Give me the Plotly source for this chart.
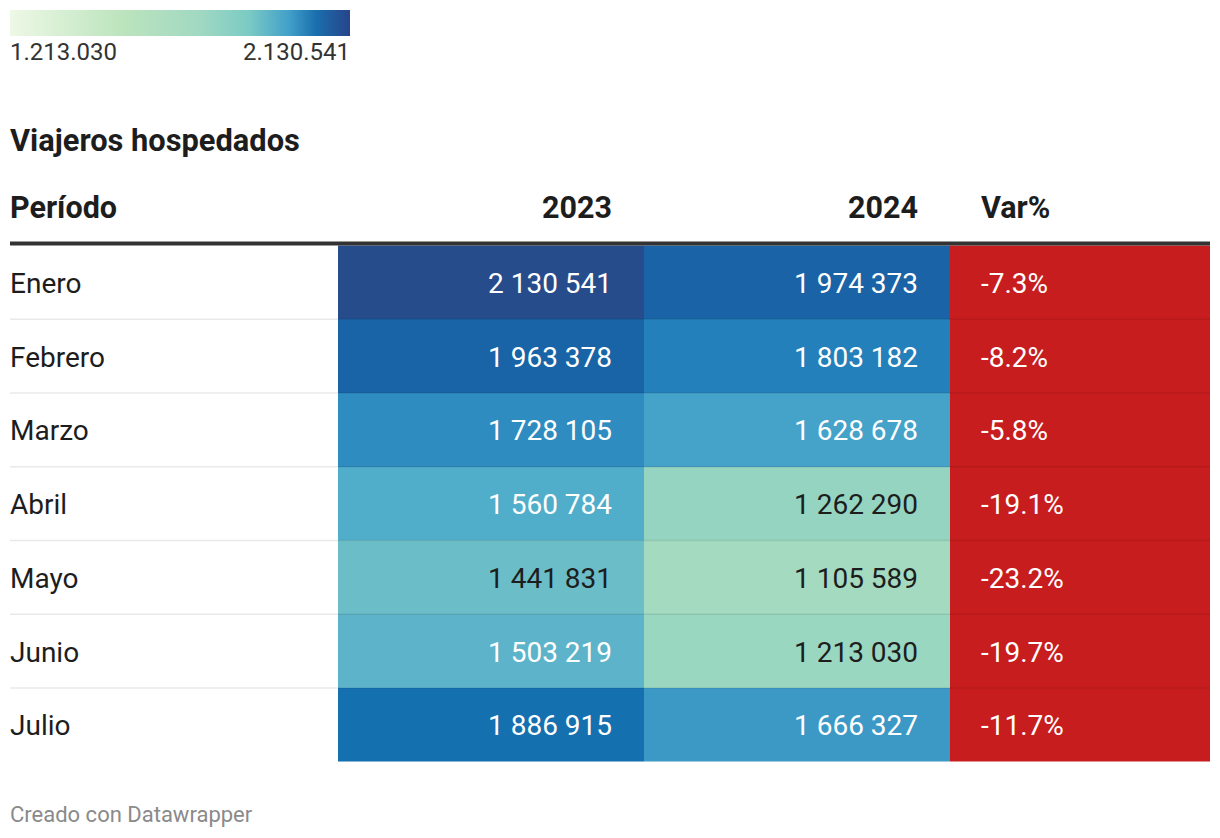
import plotly.graph_objects as go
from plotly.colors import sample_colorscale, unlabel_rgb

# ---------------- data ----------------
title = "Viajeros hospedados"
headers = ["Período", "2023", "2024", "Var%"]
periods = ["Enero", "Febrero", "Marzo", "Abril", "Mayo", "Junio", "Julio"]
v2023 = [2130541, 1963378, 1728105, 1560784, 1441831, 1503219, 1886915]
v2024 = [1974373, 1803182, 1628678, 1262290, 1105589, 1213030, 1666327]
var_pct = [-7.3, -8.2, -5.8, -19.1, -23.2, -19.7, -11.7]
legend_values = [1213030, 2130541]
legend_labels = ["1.213.030", "2.130.541"]
footer = "Creado con Datawrapper"

# ---------------- style / layout ----------------
W, H = 1220, 838
OFF = 8  # page body margin compensation
FONT = "Roboto"
DARK = "#1d1d1d"
RED = "#c81d1e"
col_edges = [10, 338, 644, 950, 1210]
table_top = 245.5
row_h = 73.75
pad_r = 32.5
pad_l = 31

cell_cmin, cell_cmax = 1105589, 2130541
cell_cs = [
    [0.0, "#a3dac0"], [0.105, "#9ad7c0"], [0.153, "#94d4c1"], [0.328, "#6bbec8"],
    [0.388, "#5db4ca"], [0.444, "#51aecb"], [0.51, "#45a2c9"], [0.547, "#3c99c6"],
    [0.607, "#2e8cc0"], [0.681, "#2380ba"], [0.762, "#1570b0"], [0.84, "#1864a7"],
    [1.0, "#264c8c"],
]
legend_cs = [
    [0.0, "#eef8e6"], [0.33, "#bce4bd"], [0.55, "#a2d9c2"], [0.70, "#7ccbc4"],
    [0.82, "#42a0c9"], [0.90, "#1a6fae"], [1.0, "#27448a"],
]

n = len(periods)
row_edges = [table_top + i * row_h for i in range(n + 1)]
row_mid = [table_top + (i + 0.5) * row_h + 1 for i in range(n)]


def fmt_num(v):
    return f"{v:,}".replace(",", " ")


def text_color(v):
    t = (v - cell_cmin) / (cell_cmax - cell_cmin)
    r, g, b = unlabel_rgb(sample_colorscale(cell_cs, [min(max(t, 0), 1)])[0])

    def lin(c):
        c = c / 255
        return c / 12.92 if c <= 0.03928 else ((c + 0.055) / 1.055) ** 2.4

    L = 0.2126 * lin(r) + 0.7152 * lin(g) + 0.0722 * lin(b)
    return DARK if L > 0.42 else "white"


fig = go.Figure()

# value cells (2023, 2024)
fig.add_trace(go.Heatmap(
    x=col_edges[1:4], y=row_edges,
    z=[[a, b] for a, b in zip(v2023, v2024)],
    colorscale=cell_cs, zmin=cell_cmin, zmax=cell_cmax,
    showscale=False, hoverinfo="skip",
))
# variation column
fig.add_trace(go.Heatmap(
    x=col_edges[3:5], y=row_edges,
    z=[[v] for v in var_pct],
    colorscale=[[0, RED], [1, RED]],
    showscale=False, hoverinfo="skip",
))
# legend gradient
fig.add_trace(go.Scatter(
    x=[None, None], y=[None, None], mode="markers", showlegend=False, hoverinfo="skip",
    marker=dict(
        color=legend_values, colorscale=legend_cs,
        cmin=legend_values[0], cmax=legend_values[1], showscale=True,
        colorbar=dict(
            orientation="h", thickness=26, thicknessmode="pixels",
            len=340, lenmode="pixels", x=(10 - OFF) / W, xanchor="left",
            y=1 - (10 - OFF) / H, yanchor="top", xpad=0, ypad=0,
            outlinewidth=0, showticklabels=False, ticks="",
        ),
    ),
))

shapes = []
# row separators
for yb in row_edges[1:-1]:
    shapes.append(dict(type="line", xref="x", yref="y", x0=col_edges[0], x1=col_edges[-1],
                       y0=yb, y1=yb, line=dict(color="rgba(0,0,0,0.085)", width=1.5)))
# header rule
shapes.append(dict(type="line", xref="x", yref="y", x0=col_edges[0], x1=col_edges[-1],
                   y0=table_top - 2, y1=table_top - 2, line=dict(color="#333333", width=4)))

ann = []


def add_text(x, y, text, size, color=DARK, anchor="left", weight=400):
    ann.append(dict(x=x, y=y, xref="x", yref="y", text=text, showarrow=False,
                    xanchor=anchor, yanchor="middle",
                    font=dict(family=FONT, size=size, color=color, weight=weight)))


# legend labels
add_text(col_edges[0] - 2, 52, legend_labels[0], 24, "#333333", "left")
add_text(352, 52, legend_labels[1], 24, "#333333", "right")
# title
add_text(col_edges[0] - 2, 140, title, 30.8, DARK, "left", 700)
# header
hy = 207
add_text(col_edges[0] - 2, hy, headers[0], 30.5, DARK, "left", 700)
add_text(col_edges[2] - pad_r + 2, hy, headers[1], 30.5, DARK, "right", 700)
add_text(col_edges[3] - pad_r + 2, hy, headers[2], 30.5, DARK, "right", 700)
add_text(col_edges[3] + pad_l - 2, hy, headers[3], 30.5, DARK, "left", 700)

for i in range(n):
    y = row_mid[i]
    add_text(col_edges[0] - 2, y, periods[i], 28)
    add_text(col_edges[2] - pad_r + 2, y, fmt_num(v2023[i]), 28, text_color(v2023[i]), "right")
    add_text(col_edges[3] - pad_r + 2, y, fmt_num(v2024[i]), 28, text_color(v2024[i]), "right")
    add_text(col_edges[3] + pad_l - 2, y, f"{var_pct[i]:.1f}%", 28, "white", "left")

add_text(col_edges[0] - 2, 814, footer, 22, "#8a8a8a", "left")

fig.update_layout(
    width=W, height=H, margin=dict(l=0, r=0, t=0, b=0),
    paper_bgcolor="white", plot_bgcolor="white",
    xaxis=dict(range=[OFF, W + OFF], visible=False, fixedrange=True, domain=[0, 1]),
    yaxis=dict(range=[H + OFF, OFF], visible=False, fixedrange=True, domain=[0, 1]),
    shapes=shapes, annotations=ann, showlegend=False,
)

fig.write_html("out.html")
